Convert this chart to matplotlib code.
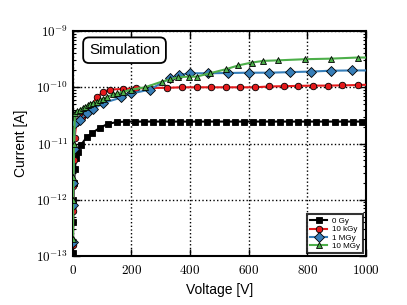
import numpy as np
import matplotlib
matplotlib.use("Agg")
import matplotlib.pyplot as plt
from matplotlib.ticker import FuncFormatter, FixedLocator, LogLocator, NullFormatter

plt.rcParams['font.family'] = ['Liberation Sans', 'DejaVu Sans']
plt.rcParams['mathtext.fontset'] = 'cm'

# ---- data (log10 of current in A) ----
v_0gy = [0.3, 1, 2, 4, 7, 11, 16, 27, 47, 67, 92, 120, 149, 180, 211, 242, 273, 304, 335,
         366, 397, 428, 459, 490, 521, 552, 583, 614, 645, 676, 707, 738, 769, 800, 831,
         862, 893, 924, 955, 986, 1000]
logi_0gy = [-12.95, -12.4, -12.0, -11.7, -11.45, -11.25, -11.15, -11.03, -10.89, -10.81,
            -10.72, -10.65, -10.62, -10.61, -10.61, -10.61, -10.61, -10.61, -10.61,
            -10.61, -10.61, -10.61, -10.61, -10.61, -10.61, -10.61, -10.61, -10.61,
            -10.61, -10.61, -10.61, -10.61, -10.61, -10.61, -10.61, -10.61, -10.61,
            -10.61, -10.61, -10.61, -10.61]

v_10kgy = [0.3, 1, 2, 3.5, 6, 12, 20, 30, 40, 52, 65, 81, 104, 126, 172, 215, 263, 320,
           371, 422, 473, 521, 570, 621, 670, 720, 769, 820, 871, 920, 972, 1000]
logi_10kgy = [-12.8, -12.2, -11.75, -11.3, -10.9, -10.64, -10.58, -10.52, -10.48, -10.43,
              -10.32, -10.18, -10.08, -10.04, -10.03, -10.02, -10.01, -10.01, -10.0,
              -10.0, -10.0, -10.0, -10.0, -10.0, -9.985, -9.98, -9.975, -9.97, -9.97,
              -9.965, -9.96, -9.955]

v_1mgy = [0.3, 1, 2, 4, 7, 24, 47, 69, 104, 166, 200, 263, 331, 363, 399, 462, 530, 602,
          670, 741, 811, 880, 951, 1000]
logi_1mgy = [-12.75, -12.1, -11.7, -11.1, -10.64, -10.58, -10.46, -10.39, -10.28, -10.18,
             -10.11, -10.04, -9.84, -9.78, -9.75, -9.75, -9.745, -9.74, -9.74, -9.73,
             -9.72, -9.705, -9.70, -9.70]

v_10mgy = [0.3, 1, 2, 4, 7, 15, 24, 33, 41, 50, 58, 70, 81, 92, 104, 118, 138, 150, 172,
           200, 246, 303, 331, 360, 395, 422, 468, 521, 565, 610, 650, 701, 792, 880,
           972, 1000]
logi_10mgy = [-12.7, -12.0, -11.6, -11.0, -10.46, -10.43, -10.4, -10.37, -10.35, -10.32,
              -10.3, -10.28, -10.26, -10.23, -10.2, -10.17, -10.12, -10.11, -10.08,
              -10.04, -10.0, -9.90, -9.86, -9.82, -9.81, -9.81, -9.75, -9.68, -9.61,
              -9.56, -9.53, -9.52, -9.50, -9.49, -9.47, -9.47]

labels = ['0 Gy', '10 kGy', '1 MGy', '10 MGy']
colors = ['#000000', '#e41a1c', '#377eb8', '#4daf4a']
markers = ['s', 'o', 'D', '^']
xticks = [0, 200, 400, 600, 800, 1000]
yticks = [-13, -12, -11, -10, -9]

fig = plt.figure(figsize=(4.07, 3.05), dpi=100)
ax = fig.add_axes([0.179, 0.161, 0.720, 0.737])

series = [(v_0gy, logi_0gy), (v_10kgy, logi_10kgy), (v_1mgy, logi_1mgy), (v_10mgy, logi_10mgy)]
for (v, li), lab, c, m in zip(series, labels, colors, markers):
    cur = 10.0 ** np.array(li)
    n = len(v)
    ax.plot(v, cur, color=c, lw=1.5, marker=m, ms=4.7, mfc=c, mec='black', mew=0.6,
            markevery=list(range(n - 1)), label=lab, zorder=3, clip_on=True)

ax.set_yscale('log')
ax.set_xlim(0, 1000)
ax.set_ylim(1e-13, 1e-9)
ax.xaxis.set_major_locator(FixedLocator(xticks))
ax.xaxis.set_major_formatter(FuncFormatter(lambda x, p: r'$%d$' % x))
ax.yaxis.set_major_locator(FixedLocator([10.0 ** e for e in yticks]))
ax.yaxis.set_major_formatter(FuncFormatter(lambda y, p: r'$10^{%d}$' % int(round(np.log10(y)))))
ax.yaxis.set_minor_locator(LogLocator(base=10, subs=np.arange(2, 10), numticks=20))
ax.yaxis.set_minor_formatter(NullFormatter())

ax.tick_params(which='both', direction='in', top=True, right=True, labelsize=9.5)
ax.tick_params(axis='x', which='major', pad=6)
ax.tick_params(which='major', length=5, width=1)
ax.tick_params(which='minor', length=2.5, width=0.8)
for s in ax.spines.values():
    s.set_linewidth(1.5)

ax.grid(True, which='major', linestyle=':', color='black', lw=1.0)

ax.set_xlabel('Voltage [V]', fontsize=10, labelpad=4)
ax.set_ylabel('Current [A]', fontsize=10, labelpad=6)

ax.text(0.055, 0.915, 'Simulation', transform=ax.transAxes, fontsize=11, va='center', ha='left',
        bbox=dict(boxstyle='round,pad=0.38', fc='white', ec='black', lw=1.3), zorder=5)

leg = ax.legend(loc='lower right', fontsize=5.8, frameon=True, fancybox=False,
                handlelength=2.2, borderpad=0.35, labelspacing=0.1, handletextpad=0.6,
                borderaxespad=0.35)
leg.get_frame().set_edgecolor('black')
leg.get_frame().set_linewidth(1.5)
leg.set_zorder(6)

fig.savefig('out.png', dpi=100)
